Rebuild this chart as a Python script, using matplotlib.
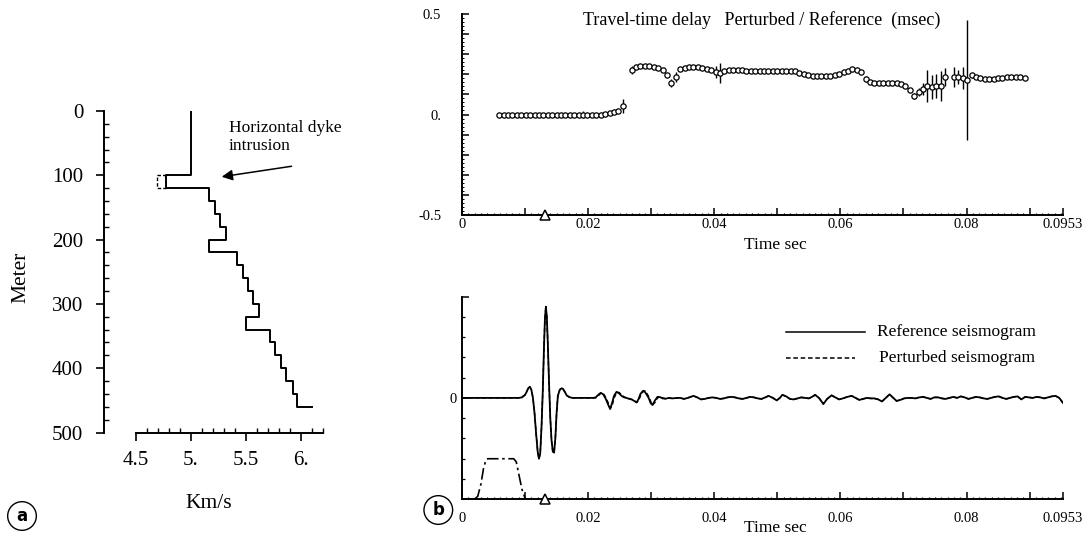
import numpy as np
import matplotlib.pyplot as plt
from matplotlib.ticker import MultipleLocator, FixedLocator

plt.rcParams['font.family'] = ['Liberation Serif', 'DejaVu Serif']

# ---- panel a: velocity profile (layer tops in m, velocity in km/s)
layer_top = [0, 100, 120, 140, 160, 180, 200, 220, 240, 260, 280, 300,
             320, 340, 360, 380, 400, 420, 440, 460]
vel_ref = [5.0, 4.78, 5.17, 5.22, 5.27, 5.32, 5.17, 5.42, 5.475, 5.52, 5.57,
           5.62, 5.5, 5.72, 5.77, 5.82, 5.87, 5.93, 5.97, 6.10]
dyke_top = 100
dyke_bottom = 120
vel_dyke = 4.69

# ---- panel b top: travel-time delay (time in ms, delay in msec)
delay_t_ms = [5.9, 6.6, 7.3, 8.0, 8.7, 9.4, 10.1, 10.8, 11.5, 12.2, 12.9, 13.6,
              14.3, 15.0, 15.7, 16.4, 17.1, 17.8, 18.5, 19.2, 19.9, 20.6, 21.3,
              22.0, 22.7, 23.4, 24.1, 24.8, 25.5,
              26.9, 27.6, 28.3, 29.0, 29.7, 30.4, 31.1, 31.8, 32.5, 33.2, 33.9,
              34.6, 35.3, 36.0, 36.7, 37.4, 38.1, 38.8, 39.5, 40.2, 40.9, 41.6,
              42.3, 43.0, 43.7, 44.4, 45.1, 45.8, 46.5, 47.2, 47.9, 48.6, 49.3,
              50.0, 50.7, 51.4, 52.1, 52.8, 53.5, 54.2, 54.9, 55.6, 56.3, 57.0,
              57.7, 58.4, 59.1, 59.8, 60.5, 61.2, 61.9, 62.6, 63.3, 64.0, 64.7,
              65.4, 66.1, 66.8, 67.5, 68.2, 68.9, 69.6, 70.3, 71.0, 71.7, 72.4,
              73.1, 73.8, 74.5, 75.2, 75.9, 76.6,
              78.0, 78.7, 79.4, 80.1, 80.8, 81.5, 82.2, 82.9, 83.6, 84.3, 85.0,
              85.7, 86.4, 87.1, 87.8, 88.5, 89.2]
delay_val = [0.0, 0.0, 0.0, 0.0, 0.0, 0.0, 0.0, 0.0, 0.0, 0.0, 0.0, 0.0,
             0.0, 0.0, 0.0, 0.0, 0.0, 0.0, 0.0, 0.0, 0.0, 0.0, 0.0,
             0.0, 0.002, 0.005, 0.01, 0.018, 0.04,
             0.22, 0.235, 0.24, 0.24, 0.24, 0.238, 0.232, 0.222, 0.195, 0.155, 0.185,
             0.225, 0.232, 0.234, 0.235, 0.235, 0.233, 0.228, 0.22, 0.21, 0.205, 0.215,
             0.222, 0.222, 0.22, 0.22, 0.218, 0.218, 0.217, 0.217, 0.217, 0.218, 0.218,
             0.218, 0.218, 0.218, 0.218, 0.215, 0.208, 0.2, 0.195, 0.192, 0.19, 0.19,
             0.192, 0.193, 0.195, 0.2, 0.21, 0.218, 0.224, 0.223, 0.213, 0.178, 0.16,
             0.157, 0.156, 0.156, 0.156, 0.156, 0.157, 0.153, 0.14, 0.12, 0.09, 0.11,
             0.125, 0.14, 0.135, 0.14, 0.14, 0.185,
             0.185, 0.185, 0.18, 0.172, 0.195, 0.187, 0.18, 0.178, 0.176, 0.175, 0.18,
             0.183, 0.185, 0.186, 0.186, 0.185, 0.184]
delay_err = [0, 0, 0, 0, 0, 0, 0, 0, 0, 0, 0, 0,
             0, 0, 0, 0, 0, 0, 0, 0.015, 0, 0, 0,
             0, 0, 0, 0, 0.01, 0.035,
             0.02, 0, 0, 0, 0, 0, 0, 0, 0, 0.02, 0.025,
             0, 0, 0, 0, 0, 0, 0, 0.01, 0.03, 0.05, 0,
             0, 0, 0, 0, 0, 0, 0, 0, 0, 0, 0,
             0, 0, 0, 0, 0, 0, 0, 0, 0, 0, 0,
             0, 0, 0, 0, 0, 0, 0, 0, 0, 0.015, 0,
             0, 0, 0, 0, 0, 0, 0, 0, 0.01, 0.015, 0.02,
             0.03, 0.08, 0.06, 0.06, 0.075, 0.045,
             0.05, 0.035, 0.055, 0.3, 0.012, 0, 0.01, 0, 0.01, 0, 0,
             0, 0, 0, 0, 0, 0]
source_t_ms = 13.1

# ---- panel b bottom: seismograms (time in ms, normalised amplitude)
seis_t_early = [0.0, 9.0, 9.5, 10.0, 10.25, 10.5, 10.75, 11.0, 11.25, 11.5, 11.75,
                12.0, 12.2, 12.4, 12.6, 12.8, 13.0, 13.15, 13.3, 13.45, 13.6, 13.8,
                14.0, 14.2, 14.4, 14.6, 14.8, 15.0, 15.2, 15.5, 15.8, 16.0, 16.3,
                16.6, 17.0, 17.5, 20.8]
ref_early = [0.0, 0.0, 0.005, 0.03, 0.06, 0.095, 0.11, 0.08, 0.0, -0.15, -0.35,
             -0.53, -0.6, -0.55, -0.3, 0.05, 0.5, 0.78, 0.9, 0.8, 0.55, 0.15,
             -0.2, -0.42, -0.53, -0.54, -0.4, -0.15, 0.02, 0.08, 0.095, 0.09, 0.06,
             0.025, 0.008, 0.0, 0.0]
seis_t_mid = [21.2, 21.6, 22.0, 22.4, 22.8, 23.2, 23.5, 23.8, 24.1, 24.5, 24.9,
              25.3, 25.7, 26.1, 26.5, 26.9, 27.3, 27.7, 28.0, 28.3, 28.7, 29.0,
              29.3, 29.6, 29.9, 30.2, 30.6, 31.0, 31.4, 31.8, 32.3, 32.8, 33.3,
              33.8, 34.3]
ref_mid = [0.005, 0.03, 0.05, 0.035, -0.01, -0.07, -0.11, -0.05, 0.02, 0.06, 0.045,
           0.02, 0.005, 0.0, -0.01, -0.015, -0.03, -0.045, -0.01, 0.04, 0.07, 0.06,
           0.03, 0.0, -0.05, -0.07, -0.025, 0.01, 0.008, -0.005, -0.008, 0.0, -0.005,
           -0.002, 0.0]
pert_mid = [0.0, 0.02, 0.045, 0.045, 0.005, -0.05, -0.1, -0.08, -0.005, 0.05, 0.055,
            0.03, 0.01, 0.0, -0.005, -0.015, -0.025, -0.045, -0.03, 0.02, 0.06, 0.07,
            0.045, 0.015, -0.03, -0.07, -0.045, 0.0, 0.01, 0.0, -0.008, -0.002, -0.004,
            -0.003, 0.0]
seis_t_late = [34.6, 35.2, 35.8, 36.7, 37.3, 37.9, 38.5, 39.1, 39.7, 40.3, 40.9,
               41.5, 42.1, 42.7, 43.3, 43.9, 44.5, 45.1, 45.7, 46.3, 46.9, 47.5,
               48.1, 48.6, 49.3, 49.9, 50.4, 50.8, 51.4, 52.0, 52.6, 53.2, 53.8,
               54.4, 55.0, 55.5, 56.0, 56.6, 57.3, 57.9, 58.6, 59.2, 59.8, 60.4,
               61.1, 61.8, 62.4, 63.0, 63.6, 64.2, 64.8, 65.4, 66.0, 66.6, 67.2,
               67.8, 68.4, 68.9, 69.5, 70.1, 70.7, 71.3, 71.9, 72.5, 73.1, 73.7,
               74.3, 74.9, 75.5, 76.1, 76.7, 77.3, 77.9, 78.5, 79.1, 79.7, 80.3,
               80.9, 81.5, 82.1, 82.7, 83.3, 83.9, 84.5, 85.1, 85.7, 86.3, 86.9,
               87.5, 88.1, 88.7, 89.3, 89.9, 90.5, 91.1, 91.7, 92.3, 92.9, 93.5,
               94.1, 94.7, 95.3]
ref_late = [0.0, -0.01, 0.0, 0.02, 0.005, -0.015, -0.01, 0.0, 0.005, 0.0, -0.01,
            -0.005, 0.005, 0.01, 0.005, -0.005, -0.01, 0.0, 0.01, 0.005, -0.005, -0.01,
            0.005, 0.02, 0.0, -0.025, 0.0, 0.03, 0.015, -0.01, -0.015, -0.005, 0.005,
            0.0, -0.005, 0.01, 0.03, 0.0, -0.06, -0.01, 0.025, 0.005, -0.015, -0.005,
            0.01, 0.02, 0.0, -0.02, -0.01, 0.0, -0.005, -0.005, -0.015, -0.035, 0.0,
            0.035, 0.0, -0.03, -0.02, -0.005, 0.0, 0.0, -0.005, 0.005, 0.01, 0.0,
            -0.01, 0.005, 0.005, -0.005, -0.01, 0.0, 0.01, 0.0, 0.015, 0.005, -0.01,
            0.0, 0.01, 0.005, -0.005, -0.01, 0.0, 0.01, 0.015, 0.0, -0.01, 0.0,
            0.01, 0.015, -0.015, 0.01, 0.005, 0.0, 0.01, 0.005, -0.005, 0.005, 0.015,
            0.02, 0.0, -0.05]
# source time function (dash-dot trapezoid)
stf_t_ms = [2.0, 2.5, 3.0, 3.4, 3.8, 4.1, 8.2, 8.6, 9.0, 9.5, 10.0, 10.2]
stf_amp = [-1.0, -0.97, -0.85, -0.7, -0.61, -0.6, -0.6, -0.63, -0.75, -0.9, -0.99, -1.0]

W, H = 1089, 536
fig = plt.figure(figsize=(W / 100, H / 100), dpi=100)


def px_axes(x0, y0, x1, y1):
    return fig.add_axes([x0 / W, 1 - y1 / H, (x1 - x0) / W, (y1 - y0) / H])


# ================= panel a
axa = px_axes(104, 111, 322.7, 432.5)
xs, ys = [], []
for i, v in enumerate(vel_ref):
    xs.append(v)
    ys.append(layer_top[i])
    if i + 1 < len(layer_top):
        xs.append(v)
        ys.append(layer_top[i + 1])
axa.plot(xs, ys, color='black', lw=1.4)
v_top = vel_ref[layer_top.index(dyke_top)]
axa.plot([v_top, vel_dyke, vel_dyke, v_top], [dyke_top, dyke_top, dyke_bottom, dyke_bottom],
         color='black', lw=1.0, ls=(0, (2.5, 1.5)))
axa.set_xlim(4.212, 6.2)
axa.set_ylim(500, 0)
for s in ['top', 'right']:
    axa.spines[s].set_visible(False)
axa.spines['bottom'].set_bounds(4.5, 6.2)
axa.spines['left'].set_bounds(0, 500)
for s in ['left', 'bottom']:
    axa.spines[s].set_linewidth(1.4)
axa.set_xticks([4.5, 5.0, 5.5, 6.0])
axa.set_xticklabels(['4.5', '5.', '5.5', '6.'])
axa.xaxis.set_minor_locator(FixedLocator(np.round(np.arange(4.6, 6.21, 0.1), 2)))
axa.set_yticks([0, 100, 200, 300, 400, 500])
axa.yaxis.set_minor_locator(MultipleLocator(20))
axa.tick_params(axis='both', which='major', direction='out', length=6, width=1.2, labelsize=15)
axa.tick_params(axis='both', which='minor', direction='in', length=3.5, width=1.0)
axa.tick_params(axis='y', which='major', pad=9)
axa.tick_params(axis='x', which='major', pad=7)
fig.text(20.5 / W, 1 - 277 / H, 'Meter', rotation=90, ha='center', va='center', fontsize=15.5)
fig.text(208.5 / W, 1 - 504 / H, 'Km/s', ha='center', va='center', fontsize=15.5)
axa.text(5.345, 27, 'Horizontal dyke', fontsize=12.5, ha='left', va='center')
axa.text(5.345, 54, 'intrusion', fontsize=12.5, ha='left', va='center')
axa.annotate('', xy=(5.257, 102.9), xytext=(5.942, 85.3),
             arrowprops=dict(arrowstyle='-|>', color='black', lw=1.1, mutation_scale=16))

# ================= panel b top
t_delay = np.array(delay_t_ms) / 1000.0
axt = px_axes(462, 14, 1063, 215)
axt.errorbar(t_delay, delay_val, yerr=delay_err, fmt='o', ms=3.8, mfc='white', mec='black',
             mew=0.9, ecolor='black', elinewidth=1.0, capsize=0)
axt.plot([source_t_ms / 1000.0], [-0.5], marker='^', ms=7, mfc='white', mec='black', mew=1.1,
         clip_on=False, zorder=6, ls='none')
axt.set_xlim(0, 0.0953)
axt.set_ylim(-0.5, 0.5)
axt.text(0.498, 0.972, 'Travel-time delay   Perturbed / Reference  (msec)',
         transform=axt.transAxes, ha='center', va='center', fontsize=13)
fig.text(775 / W, 1 - 245 / H, 'Time sec', ha='center', va='center', fontsize=12.5)

xt = [0, 0.01, 0.02, 0.03, 0.04, 0.05, 0.06, 0.07, 0.08, 0.09, 0.0953]
xtl = ['0', '', '0.02', '', '0.04', '', '0.06', '', '0.08', '', '0.0953']

axt.set_yticks([-0.5, -0.4, -0.3, -0.2, -0.1, 0, 0.1, 0.2, 0.3, 0.4, 0.5])
axt.set_yticklabels(['-0.5', '', '', '', '', '0.', '', '', '', '', '0.5'])
axt.yaxis.set_minor_locator(MultipleLocator(0.02))

# ================= panel b bottom
t_ref = np.concatenate([seis_t_early, seis_t_mid, seis_t_late]) / 1000.0
a_ref = np.concatenate([ref_early, ref_mid, ref_late])
a_pert = np.concatenate([ref_early, pert_mid, ref_late])
axb = px_axes(462, 296.5, 1063, 499.3)
axb.plot(t_ref, a_ref, color='black', lw=1.3)
axb.plot(t_ref, a_pert, color='black', lw=1.0, ls=(0, (3, 1.8)))
axb.plot(np.array(stf_t_ms) / 1000.0, stf_amp, color='black', lw=1.2, ls=(0, (7, 2.2, 1.5, 2.2)))
axb.plot([source_t_ms / 1000.0], [-1.0], marker='^', ms=7, mfc='white', mec='black', mew=1.1,
         clip_on=False, zorder=6, ls='none')
axb.set_xlim(0, 0.0953)
axb.set_ylim(-1.0, 1.0)
axb.set_yticks([-1, 0, 1])
axb.set_yticklabels(['', '0', ''])
axb.yaxis.set_minor_locator(MultipleLocator(0.2))
fig.text(775 / W, 1 - 528 / H, 'Time sec', ha='center', va='center', fontsize=12.5)

# legend drawn by hand to keep the two handle lengths
axb.plot([0.539, 0.6705], [0.826, 0.826], transform=axb.transAxes, color='black', lw=1.1)
axb.plot([0.539, 0.654], [0.698, 0.698], transform=axb.transAxes, color='black', lw=1.1,
         ls=(0, (3, 1.8)))
axb.text(0.6905, 0.826, 'Reference seismogram', transform=axb.transAxes, ha='left', va='center',
         fontsize=12.5)
axb.text(0.694, 0.698, 'Perturbed seismogram', transform=axb.transAxes, ha='left', va='center',
         fontsize=12.5)

for ax in [axt, axb]:
    for s in ['top', 'right']:
        ax.spines[s].set_visible(False)
    for s in ['left', 'bottom']:
        ax.spines[s].set_linewidth(1.4)
    ax.set_xticks(xt)
    ax.set_xticklabels(xtl)
    ax.xaxis.set_minor_locator(MultipleLocator(0.001))
    ax.tick_params(axis='both', which='both', direction='in', labelsize=10.5)
    ax.tick_params(axis='x', which='major', length=5, width=1.1)
    ax.tick_params(axis='x', which='minor', length=1.6, width=0.9)

axt.tick_params(axis='y', which='major', length=5, width=1.1, pad=15)
axt.tick_params(axis='y', which='minor', length=1.2, width=0.7)
axt.tick_params(axis='x', which='major', pad=2.5)
axb.tick_params(axis='y', which='major', length=5, width=1.1, pad=4)
axb.tick_params(axis='y', which='minor', length=2, width=0.9)
axb.tick_params(axis='x', which='major', pad=9.5)

# circled panel letters
fig.text(22 / W, 1 - 516 / H, 'a', ha='center', va='center', fontsize=12, fontweight='bold',
         family='DejaVu Sans', bbox=dict(boxstyle='circle,pad=0.32', fc='white', ec='black', lw=1.0))
fig.text(438.3 / W, 1 - 510 / H, 'b', ha='center', va='center', fontsize=12, fontweight='bold',
         family='DejaVu Sans', bbox=dict(boxstyle='circle,pad=0.32', fc='white', ec='black', lw=1.0))

fig.savefig('out.png', dpi=100, facecolor='white')
